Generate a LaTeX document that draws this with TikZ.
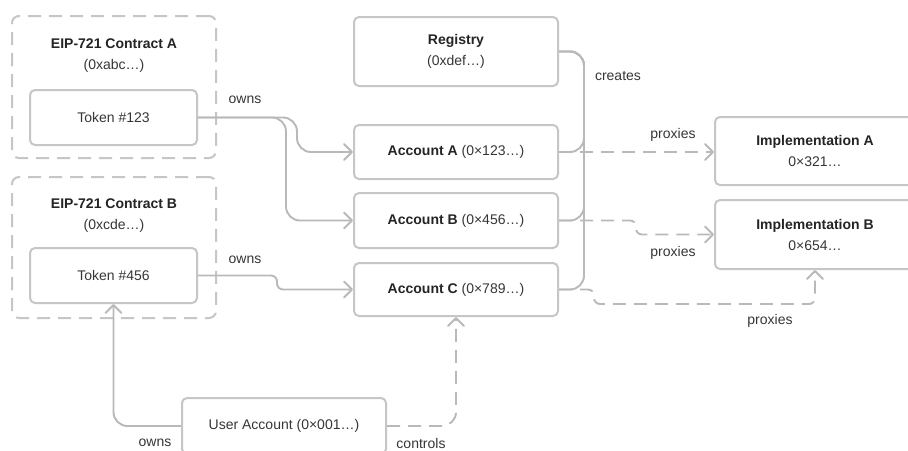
\documentclass[tikz,border=0pt]{standalone}
\usepackage{fontspec}
\setmainfont{Liberation Sans}
\usetikzlibrary{arrows.meta,calc}
\definecolor{edge}{HTML}{B9B9B9}
\definecolor{frame}{HTML}{C6C6C6}
\definecolor{ink}{HTML}{363636}
\definecolor{inkdark}{HTML}{242424}
\newcommand{\hd}[1]{\textbf{\color{inkdark}#1}}

\begin{document}
\begin{tikzpicture}[x=1pt, y=-1pt,
  font=\fontsize{14}{21}\selectfont, text=ink,
  box/.style={draw=frame, line width=2pt, rounded corners=5pt, fill=white,
    inner sep=0pt, align=center, minimum width=204pt},
  group/.style={draw=frame, line width=2pt, rounded corners=7pt,
    dash pattern=on 13pt off 8pt, inner sep=0pt, minimum width=204pt},
  title/.style={align=center, inner sep=0pt},
  lbl/.style={inner sep=1pt},
  tip/.style={-{Straight Barb[length=8pt,width=16pt,round]}},
  link/.style={draw=edge, line width=1.9pt, rounded corners=14pt},
  conn/.style={link, tip},
  proxy/.style={conn, dash pattern=on 13pt off 8pt},
]
\path[use as bounding box] (0,0) rectangle (908,450);
\clip (0,0) rectangle (908,450);
\fill[white] (0,0) rectangle (908,450);

% contract groups with their tokens
\node[group, minimum height=142pt] (cA) at (114,87) {};
\node[title] (cAt) at (114,56) {\hd{EIP-721 Contract A}\\(0xabc…)};
\node[box, minimum width=167pt, minimum height=55pt] (tA) at (113.5,117.5) {Token \#123};

\node[group, minimum height=141pt] (cB) at (114,247.5) {};
\node[title] (cBt) at (114,216) {\hd{EIP-721 Contract B}\\(0xcde…)};
\node[box, minimum width=167pt, minimum height=55pt] (tB) at (113.5,275.5) {Token \#456};

% registry and accounts
\node[box, minimum height=69pt] (reg) at (456,51.5) {\hd{Registry}\\(0xdef…)};
\node[box, minimum height=54pt] (accA) at (456,152) {\hd{Account A} (0×123…)};
\node[box, minimum height=55pt] (accB) at (456,220.5) {\hd{Account B} (0×456…)};
\node[box, minimum height=53pt] (accC) at (456,289.5) {\hd{Account C} (0×789…)};

% implementations
\node[box, minimum width=200pt, minimum height=68pt] (impA) at (815,151) {\hd{Implementation A}\\0×321…};
\node[box, minimum width=200pt, minimum height=69pt] (impB) at (815,234.5) {\hd{Implementation B}\\0×654…};

% owner
\node[box, minimum height=56pt] (user) at (284,426) {User Account (0×001…)};

% routing columns
\coordinate (xa) at (297,0);
\coordinate (xb) at (286,0);
\coordinate (xt) at (277,0);
\coordinate (xr) at (584,0);
\coordinate (xpb) at (636,0);
\coordinate (pc) at (594,304);

% token ownership
\draw[conn] (tA.east) -- (tA.east -| xa) |- (accA.west);
\draw[conn] (tA.east) -- (tA.east -| xb) |- (accB.west);
\draw[conn, rounded corners=6pt] (tB.east) -- (tB.east -| xt) |- (accC.west);

% registry creates accounts
\draw[link] (reg.east) -- (reg.east -| xr) |- (accA.east);
\draw[link] (reg.east) -- (reg.east -| xr) |- (accB.east);
\draw[link] (reg.east) -- (reg.east -| xr) |- (accC.east);

% proxies
\draw[proxy] (accA.east) -- (accA.east -| impA.west);
\draw[proxy, rounded corners=6pt] (accB.east) -- (accB.east -| xpb) |- (impB.west);
\draw[proxy, rounded corners=6pt] (accC.east) -- (accC.east -| pc) |- (pc -| impB.south)
  [rounded corners=14pt] -- (impB.south);

% user account
\draw[conn] (user.west) -| (tB.south);
\draw[proxy] (user.east) -| (accC.south);

% labels
\node[lbl] (l1) at (245,100) {owns};
\node[lbl] (l2) at (245,260) {owns};
\node[lbl] (l3) at (618,76) {creates};
\node[lbl] (l4) at (673,135) {proxies};
\node[lbl] (l5) at (673,253) {proxies};
\node[lbl] (l6) at (770,321) {proxies};
\node[lbl] (l7) at (155,443) {owns};
\node[lbl] (l8) at (421,443) {controls};
\end{tikzpicture}
\end{document}
